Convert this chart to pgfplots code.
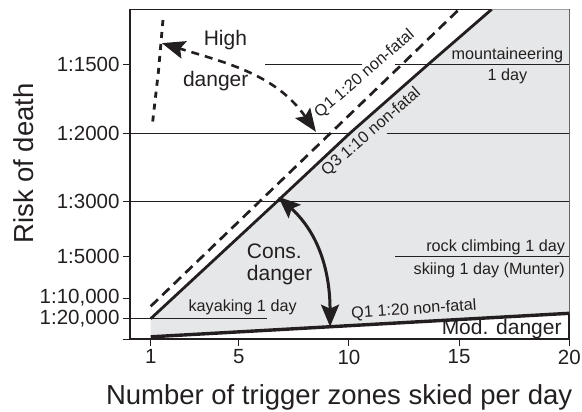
\documentclass[border=0pt]{standalone}
\usepackage{pgfplots}
\pgfplotsset{compat=1.18}
\usepackage{fontspec}
\setmainfont{Liberation Sans}
\usetikzlibrary{arrows.meta}
\definecolor{ink}{HTML}{231F20}
\definecolor{zone}{HTML}{E6E7E8}
\newcommand{\bigf}{\fontsize{21}{24}\selectfont}
\newcommand{\smallf}{\fontsize{16.2}{19}\selectfont}
\begin{document}
\begin{tikzpicture}
\useasboundingbox (-130pt,-72.7pt) rectangle (452pt,339.3pt);
\begin{axis}[
  at={(0,0)}, anchor=south west,
  scale only axis, width=439.3pt, height=330pt,
  xmin=0.06, xmax=20, ymin=0, ymax=8,
  axis line style={line width=1.6pt, draw=ink},
  xtick={1,5,10,15,20}, xticklabels={1,5,10,15,20},
  ytick={0,0.5,1,2,3.3333,5,6.6667},
  yticklabels={,{1:20,000},{1:10,000},1:5000,1:3000,1:2000,1:1500},
  xtick pos=left, ytick pos=left,
  tick align=outside, major tick length=7pt,
  tick style={line width=1pt, draw=ink},
  tick label style={font=\fontsize{20.5}{24}\selectfont, text=ink},
  /pgf/number format/assume math mode=true,
  xlabel={Number of trigger zones skied per day},
  ylabel={Risk of death},
  label style={font=\fontsize{27.5}{32}\selectfont, text=ink},
  xlabel style={at={(axis description cs:0.476,-0.199)}, anchor=base},
  ylabel style={at={(axis description cs:-0.2201,0.533)}, anchor=base},
  ref/.style={line width=1pt, draw=ink},
]
% shaded zone
\addplot[draw=none, fill=zone] coordinates {(1,0.06) (20,0.63) (20,8) (16.48,8) (13.6,6.667) (10.05,5) (6.72,3.333) (1,0.5)} -- cycle;
% reference risk levels
\addplot[ref] coordinates {(6.19,6.6667) (10.58,6.6667)};
\addplot[ref] coordinates {(12.09,6.6667) (20,6.6667)};
\addplot[ref] coordinates {(0.06,5) (10.05,5)};
\addplot[ref] coordinates {(11.71,5) (20,5)};
\addplot[ref] coordinates {(0.06,3.3333) (20,3.3333)};
\addplot[ref] coordinates {(12.09,2) (20,2)};
\addplot[ref] coordinates {(0.06,0.5) (6.27,0.5)};
% thresholds
\addplot[line width=2.8pt, draw=ink] coordinates {(1,0.5) (6.72,3.333) (10.05,5) (13.6,6.667) (16.48,8)};
\addplot[line width=2.7pt, draw=ink, dash pattern=on 10pt off 6pt] coordinates {(1,0.8) (15,8)};
\addplot[line width=3.4pt, draw=ink] coordinates {(1,0.06) (20,0.63)};
\addplot[line width=2.8pt, draw=ink, dash pattern=on 6pt off 6pt] coordinates {(1.09,5.28) (1.35,6.49) (1.57,7.82)};
% arrows
\draw[draw=ink, line width=2.6pt, dash pattern=on 8pt off 6pt, {Stealth[length=23pt,width=18pt,inset=4pt]}-{Stealth[length=23pt,width=18pt,inset=4pt]}] (axis cs:8.5,5.03) to[out=125,in=-17] (axis cs:1.51,7.18);
\draw[draw=ink, line width=3pt, {Stealth[length=22pt,width=18pt,inset=4pt]}-{Stealth[length=22pt,width=18pt,inset=4pt]}] (axis cs:6.79,3.457) to[out=-42,in=90] (axis cs:9.14,0.306);
% labels
\node[anchor=base, text=ink, font=\bigf] at (axis cs:4.39,7.13) {High};
\node[anchor=base, text=ink, font=\bigf] at (axis cs:3.95,6.12) {danger};
\node[anchor=base west, inner sep=0pt, text=ink, font=\bigf] at (axis cs:5.36,1.966) {Cons.};
\node[anchor=base west, inner sep=0pt, text=ink, font=\bigf] at (axis cs:5.36,1.42) {danger};
\node[anchor=base east, inner sep=0pt, text=ink, font=\bigf] at (axis cs:19.66,0.128) {Mod. danger};
\node[anchor=base, text=ink, font=\smallf] at (axis cs:17.19,6.795) {mountaineering};
\node[anchor=base, text=ink, font=\smallf] at (axis cs:17.19,6.285) {1 day};
\node[anchor=base east, inner sep=0pt, text=ink, font=\smallf] at (axis cs:19.81,2.126) {rock climbing 1 day};
\node[anchor=base east, inner sep=0pt, text=ink, font=\smallf] at (axis cs:19.81,1.576) {skiing 1 day (Munter)};
\node[anchor=base west, inner sep=0pt, text=ink, font=\smallf] at (axis cs:2.71,0.672) {kayaking 1 day};
\node[anchor=base, rotate=40.6, text=ink, font=\smallf] at (axis cs:10.84,6.35) {Q1 1:20 non-fatal};
\node[anchor=base, rotate=41, text=ink, font=\smallf] at (axis cs:11.14,4.95) {Q3 1:10 non-fatal};
\node[anchor=base, rotate=3.8, text=ink, font=\smallf] at (axis cs:12.96,0.61) {Q1 1:20 non-fatal};
\end{axis}
\end{tikzpicture}
\end{document}
